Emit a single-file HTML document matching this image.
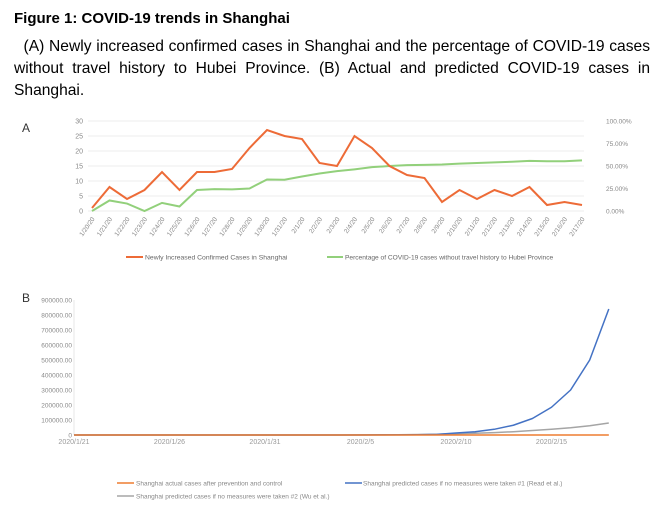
<!DOCTYPE html>
<html><head><meta charset="utf-8"><style>
body{margin:0;background:#fff;width:672px;height:513px;overflow:hidden;font-family:"Liberation Sans",Arial,sans-serif;}
#t{position:absolute;left:14px;top:10px;font-weight:bold;font-size:15px;}
#p{position:absolute;left:14px;top:36px;width:636px;font-size:15.6px;line-height:22px;text-align:justify;}
svg{position:absolute;left:0;top:0}
</style></head><body>
<div id="t">Figure 1: COVID-19 trends in Shanghai</div>
<div id="p">&nbsp;&nbsp;(A) Newly increased confirmed cases in Shanghai and the percentage of COVID-19 cases without travel history to Hubei Province. (B) Actual and predicted COVID-19 cases in Shanghai.</div>
<svg id="s" width="672" height="513" font-family="Liberation Sans, Arial, sans-serif"></svg>
<script>
const datesA=["1/20/20","1/21/20","1/22/20","1/23/20","1/24/20","1/25/20","1/26/20","1/27/20","1/28/20","1/29/20","1/30/20","1/31/20","2/1/20","2/2/20","2/3/20","2/4/20","2/5/20","2/6/20","2/7/20","2/8/20","2/9/20","2/10/20","2/11/20","2/12/20","2/13/20","2/14/20","2/15/20","2/16/20","2/17/20"];
const newCases=[1,8,4,7,13,7,13,13,14,21,27,25,24,16,15,25,21,15,12,11,3,7,4,7,5,8,2,3,2];
const pctNoTravel=[0,11.7,8.3,0,9,5,23.3,24.3,24,25,35,34.7,38.3,41.7,44.3,46.3,48.7,50,51,51.3,51.7,52.7,53.3,54,54.7,55.7,55.3,55.3,56.3];
const leftTicks=[0,5,10,15,20,25,30];
const rightTicks=["0.00%","25.00%","50.00%","75.00%","100.00%"];
const datesB=["2020/1/21","2020/1/26","2020/1/31","2020/2/5","2020/2/10","2020/2/15"];
const actualB=[0,10,20,30,40,60,80,100,120,140,160,180,200,220,230,240,250,260,270,280,290,300,305,310,315,320,325,330,335];
const predRead=[0,0,0,0,0,0,0,0,0,0,0,0,0,100,200,400,700,1200,2000,4000,13000,22000,38000,65000,110000,185000,300000,500000,840000];
const predWu=[0,0,0,0,0,0,0,0,0,0,0,0,0,100,300,600,1000,1800,3000,5000,8000,12000,16000,22000,30000,38000,48000,62000,80000];
const ticksB=[0,100000,200000,300000,400000,500000,600000,700000,800000,900000];
const s=document.getElementById('s');const NS="http://www.w3.org/2000/svg";
function el(t,a,n,txt){const e=document.createElementNS(NS,t);for(const k in a)e.setAttribute(k,a[k]);if(txt!==undefined)e.textContent=txt;s.appendChild(e);return e;}
// Chart A
const xA=i=>92+i*(490/28), yA=v=>211-v*3, yR=p=>211-p*0.9;
el('text',{x:22,y:132,'font-size':12,fill:'#333'},'panel-a-label','A');
leftTicks.forEach(v=>{el('line',{x1:88,x2:584,y1:yA(v),y2:yA(v),stroke:'#e6e6e6','stroke-width':0.7},'gridline');el('text',{x:83,y:yA(v)+2.5,'font-size':7,fill:'#888','text-anchor':'end'},'left-tick',v);});
rightTicks.forEach((t,i)=>el('text',{x:606,y:yR(i*25)+2.5,'font-size':6.5,fill:'#888'},'right-tick',t));
datesA.forEach((d,i)=>el('text',{x:xA(i)+3,y:219,'font-size':6.5,fill:'#888','text-anchor':'end',transform:`rotate(-55 ${xA(i)+3} 219)`},'x-tick',d));
el('polyline',{points:pctNoTravel.map((v,i)=>xA(i)+','+yR(v)).join(' '),fill:'none',stroke:'#92d07b','stroke-width':2},'pct-line');
el('polyline',{points:newCases.map((v,i)=>xA(i)+','+yA(v)).join(' '),fill:'none',stroke:'#ed6b37','stroke-width':2},'cases-line');
el('line',{x1:126,x2:143,y1:257,y2:257,stroke:'#ed6b37','stroke-width':2},'legend-cases-swatch');
el('text',{x:145,y:259.5,'font-size':6.8,fill:'#666'},'legend-cases','Newly Increased Confirmed Cases in Shanghai');
el('line',{x1:327,x2:343,y1:257,y2:257,stroke:'#92d07b','stroke-width':2},'legend-pct-swatch');
el('text',{x:345,y:259.5,'font-size':6.6,fill:'#666'},'legend-pct','Percentage of COVID-19 cases without travel history to Hubei Province');
// Chart B
const xB=i=>74+i*19.1, yB=v=>435-v*135/900000;
el('text',{x:22,y:302,'font-size':12,fill:'#333'},'panel-b-label','B');
el('line',{x1:74,x2:74,y1:300,y2:435,stroke:'#ddd','stroke-width':0.7},'y-axis');
el('line',{x1:74,x2:609,y1:435,y2:435,stroke:'#ccc','stroke-width':0.8},'x-axis');
ticksB.forEach(v=>el('text',{x:72,y:yB(v)+2.5,'font-size':6.5,fill:'#888','text-anchor':'end'},'y-tick-b',v?v+'.00':'0'));
datesB.forEach((d,i)=>el('text',{x:xB(i*5),y:444,'font-size':7,fill:'#999','text-anchor':'middle'},'x-tick-b',d));
el('polyline',{points:predWu.map((v,i)=>xB(i)+','+yB(v)).join(' '),fill:'none',stroke:'#a5a5a5','stroke-width':1.5},'wu-line');
el('polyline',{points:predRead.map((v,i)=>xB(i)+','+yB(v)).join(' '),fill:'none',stroke:'#4472c4','stroke-width':1.5,'stroke-linejoin':'round'},'read-line');
el('polyline',{points:actualB.map((v,i)=>xB(i)+','+yB(v)).join(' '),fill:'none',stroke:'#ed7d31','stroke-width':1.5},'actual-line');
el('line',{x1:117,x2:134,y1:483,y2:483,stroke:'#ed7d31','stroke-width':1.5},'legend-actual-swatch');
el('text',{x:136,y:485.5,'font-size':6.5,fill:'#888'},'legend-actual','Shanghai actual cases after prevention and control');
el('line',{x1:345,x2:362,y1:483,y2:483,stroke:'#4472c4','stroke-width':1.5},'legend-read-swatch');
el('text',{x:363,y:485.5,'font-size':6.5,fill:'#888'},'legend-read','Shanghai predicted cases if no measures were taken #1 (Read et al.)');
el('line',{x1:117,x2:134,y1:496,y2:496,stroke:'#a5a5a5','stroke-width':1.5},'legend-wu-swatch');
el('text',{x:136,y:498.5,'font-size':6.5,fill:'#888'},'legend-wu','Shanghai predicted cases if no measures were taken #2 (Wu et al.)');
</script>
</body></html>
